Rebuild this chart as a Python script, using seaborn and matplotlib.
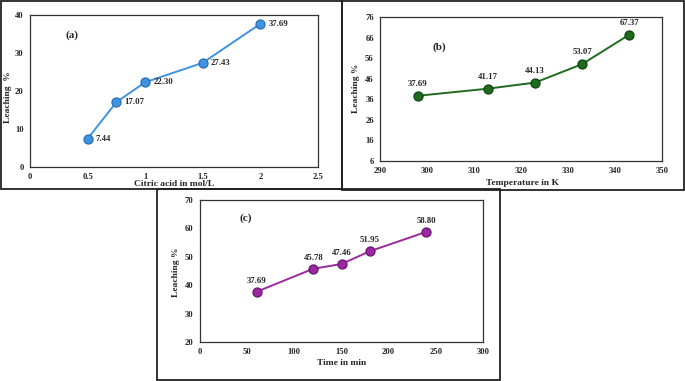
import matplotlib
matplotlib.use('Agg')
import matplotlib.pyplot as plt
import pandas as pd
import seaborn as sns
from matplotlib.patches import Rectangle

# panel (a): citric acid concentration
conc = [0.5, 0.75, 1.0, 1.5, 2.0]
leach_conc = [7.44, 17.07, 22.30, 27.43, 37.69]
# panel (b): temperature
temp = [298, 313, 323, 333, 343]
leach_temp = [37.69, 41.17, 44.13, 53.07, 67.37]
# panel (c): time
time_min = [60, 120, 150, 180, 240]
leach_time = [37.69, 45.78, 47.46, 51.95, 58.80]

# tick labels
xt_a = [0, 0.5, 1, 1.5, 2, 2.5]
xt_a_lab = ['0', '0.5', '1', '1.5', '2', '2.5']
yt_a = [0, 10, 20, 30, 40]
xt_b = [290, 300, 310, 320, 330, 340, 350]
yt_b = [6, 16, 26, 36, 46, 56, 66, 76]
xt_c = [0, 50, 100, 150, 200, 250, 300]
yt_c = [20, 30, 40, 50, 60, 70]

sns.set_style('white')
plt.rcParams['font.family'] = ['Liberation Serif', 'DejaVu Serif']
plt.rcParams['font.weight'] = 'bold'

W, H = 685, 381
fig = plt.figure(figsize=(W / 100, H / 100), dpi=100)
fig.patch.set_facecolor('white')


def px_axes(l, t, r, b):
    return fig.add_axes([l / W, 1 - b / H, (r - l) / W, (b - t) / H])


def frame(l, t, r, b):
    fig.patches.append(Rectangle((l / W, 1 - b / H), (r - l) / W, (b - t) / H,
                                 transform=fig.transFigure, fill=False,
                                 edgecolor='#222222', linewidth=1.3, zorder=0))


frame(1, 1, 342, 189)
frame(342, 1, 684, 190)
frame(157, 189, 500, 380)


def panel(ax, x, y, color, edge, xt, xtl, yt, xlabel, ylabel, tag, tagpos,
          lab_off, lab_ha, xlab_pos, ylab_pos):
    df = pd.DataFrame({'x': x, 'y': y})
    sns.lineplot(data=df, x='x', y='y', ax=ax, color=color, linewidth=1.4,
                 marker='o', markersize=6.5, markerfacecolor=color,
                 markeredgecolor=edge, markeredgewidth=0.9)
    ax.set_xlim(xt[0], xt[-1])
    ax.set_ylim(yt[0], yt[-1])
    ax.set_xticks(xt)
    ax.set_xticklabels(xtl)
    ax.set_yticks(yt)
    ax.tick_params(length=0, labelsize=6.2, pad=4.5)
    for lab in ax.get_xticklabels() + ax.get_yticklabels():
        lab.set_fontweight('bold')
    for s in ax.spines.values():
        s.set_color('#333333')
        s.set_linewidth(0.9)
    ax.set_xlabel(xlabel, fontsize=6.8, fontweight='bold')
    ax.set_ylabel(ylabel, fontsize=6.8, fontweight='bold')
    ax.xaxis.set_label_coords(*xlab_pos)
    ax.yaxis.set_label_coords(*ylab_pos)
    ax.xaxis.label.set_va('center')
    ax.yaxis.label.set_va('center')
    for xi, yi in zip(x, y):
        ax.annotate(f'{yi:.2f}', (xi, yi), xytext=lab_off,
                    textcoords='offset points', ha=lab_ha, va='center',
                    fontsize=6.3, fontweight='bold', zorder=5)
    ax.text(tagpos[0], tagpos[1], tag, transform=ax.transAxes,
            fontsize=8, fontweight='bold', ha='center', va='center')


ax_a = px_axes(30, 15, 318, 167)
panel(ax_a, conc, leach_conc, '#3f93e0', '#2a6fb5', xt_a, xt_a_lab, yt_a,
      'Citric acid in mol/L', 'Leaching  %', '(a)', (0.146, 0.87),
      (6, 0), 'left', (0.5, -0.11), (-0.076, 0.46))

ax_b = px_axes(380, 17, 662, 161)
panel(ax_b, temp, leach_temp, '#1e6b1e', '#0f450f', xt_b,
      [str(v) for v in xt_b], yt_b,
      'Temperature in K', 'Leaching %', '(b)', (0.21, 0.79),
      (0, 8.6), 'center', (0.507, -0.153), (-0.085, 0.507))

ax_c = px_axes(200, 200, 483, 342)
panel(ax_c, time_min, leach_time, '#9b2aa0', '#6a1570', xt_c,
      [str(v) for v in xt_c], yt_c,
      'Time in min', 'Leaching %', '(c)', (0.16, 0.87),
      (0, 8), 'center', (0.5, -0.148), (-0.085, 0.49))

fig.savefig('out.png', dpi=100)
